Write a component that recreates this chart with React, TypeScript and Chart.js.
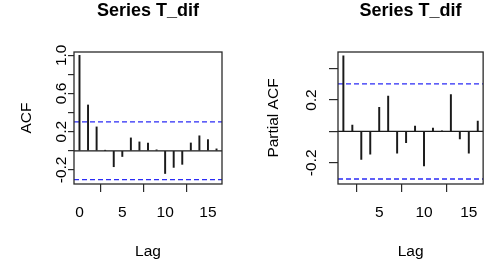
import React, { useEffect, useRef } from "react";
import { Chart, registerables } from "chart.js";

Chart.register(...registerables);

// ---- data ----
const seriesTitle = "Series T_dif";
const xAxisTitle = "Lag";
const acfTitle = "ACF";
const pacfTitle = "Partial ACF";

const acfLags = [0, 1, 2, 3, 4, 5, 6, 7, 8, 9, 10, 11, 12, 13, 14, 15, 16];
const acfValues = [1.0, 0.48, 0.25, 0.004, -0.167, -0.06, 0.135, 0.093, 0.082, 0.01, -0.238, -0.174, -0.142, 0.082, 0.157, 0.117, 0.02];

const pacfLags = [1, 2, 3, 4, 5, 6, 7, 8, 9, 10, 11, 12, 13, 14, 15, 16];
const pacfValues = [0.481, 0.041, -0.178, -0.145, 0.154, 0.225, -0.139, -0.071, 0.034, -0.22, 0.021, 0.003, 0.235, -0.047, -0.139, 0.066];

const ciBound = 0.303;

const acfXTicks = [0, 5, 10, 15];
const acfYTicks = [-0.2, 0, 0.2, 0.4, 0.6, 0.8, 1.0];
const acfYLabels = [-0.2, 0.2, 0.6, 1.0];

const pacfXTicks = [5, 10, 15];
const pacfYTicks = [-0.2, 0, 0.2, 0.4];
const pacfYLabels = [-0.2, 0.2];

const FONT = "'Liberation Sans', Arial, Helvetica, sans-serif";

const framePlugin = {
  id: "frame",
  afterDatasetsDraw(chart: any) {
    const { ctx, chartArea: a } = chart;
    ctx.save();
    ctx.strokeStyle = "#2a2a2a";
    ctx.lineWidth = 1.3;
    ctx.strokeRect(a.left, a.top, a.right - a.left, a.bottom - a.top);
    ctx.restore();
  },
};

interface P {
  lags: number[];
  values: number[];
  xMin: number;
  xMax: number;
  xTicks: number[];
  yMin: number;
  yMax: number;
  yTicks: number[];
  yLabels: number[];
  yTitle: string;
  yWidth: number;
  yTitlePad: number;
  yTickPad: number;
  yTickLen: number;
  padRight: number;
}

function makeConfig(p: P): any {
  const tickLen = 8;
  return {
    type: "bar",
    data: {
      datasets: [
        {
          type: "bar",
          data: p.lags.map((l, i) => ({ x: l, y: p.values[i] })),
          backgroundColor: "#1a1a1a",
          barThickness: 1.3,
          order: 1,
        },
        {
          type: "line",
          data: [
            { x: p.xMin, y: 0 },
            { x: p.xMax, y: 0 },
          ],
          borderColor: "#1a1a1a",
          borderWidth: 1.2,
          pointRadius: 0,
          order: 2,
        },
        {
          type: "line",
          data: [
            { x: p.xMin, y: ciBound },
            { x: p.xMax, y: ciBound },
          ],
          borderColor: "#2b2bf5",
          borderWidth: 1.3,
          borderDash: [5, 3],
          pointRadius: 0,
          order: 3,
        },
        {
          type: "line",
          data: [
            { x: p.xMin, y: -ciBound },
            { x: p.xMax, y: -ciBound },
          ],
          borderColor: "#2b2bf5",
          borderWidth: 1.3,
          borderDash: [5, 3],
          pointRadius: 0,
          order: 3,
        },
      ],
    },
    options: {
      responsive: false,
      animation: false,
      devicePixelRatio: 1,
      layout: { padding: { left: 0, top: 0, right: p.padRight, bottom: 0 } },
      plugins: {
        legend: { display: false },
        tooltip: { enabled: false },
        title: {
          display: true,
          text: seriesTitle,
          fullSize: false,
          color: "#000",
          font: { family: FONT, size: 18, weight: "bold" },
          padding: { top: 0, bottom: 30.4 },
        },
      },
      scales: {
        x: {
          type: "linear",
          offset: false,
          min: p.xMin,
          max: p.xMax,
          afterBuildTicks: (scale: any) => {
            scale.ticks = p.xTicks.map((v) => ({ value: v }));
          },
          afterFit: (scale: any) => {
            scale.height = 77;
          },
          border: { display: false },
          grid: {
            drawOnChartArea: false,
            drawTicks: true,
            tickLength: tickLen,
            color: "#2a2a2a",
            lineWidth: 1.2,
          },
          ticks: {
            color: "#000",
            font: { family: FONT, size: 15.5 },
            padding: 11,
            maxRotation: 0,
            autoSkip: false,
            callback: (v: number) => String(v),
          },
          title: {
            display: true,
            text: xAxisTitle,
            color: "#000",
            font: { family: FONT, size: 15.5 },
            padding: { top: 0, bottom: 0 },
          },
        },
        y: {
          type: "linear",
          min: p.yMin,
          max: p.yMax,
          afterBuildTicks: (scale: any) => {
            scale.ticks = p.yTicks.map((v) => ({ value: v }));
          },
          afterFit: (scale: any) => {
            scale.width = p.yWidth;
          },
          border: { display: false },
          grid: {
            drawOnChartArea: false,
            drawTicks: true,
            tickLength: p.yTickLen,
            color: "#2a2a2a",
            lineWidth: 1.2,
          },
          ticks: {
            color: "#000",
            font: { family: FONT, size: 15.5 },
            minRotation: 90,
            maxRotation: 90,
            crossAlign: "center",
            padding: p.yTickPad,
            autoSkip: false,
            callback: (v: number) =>
              p.yLabels.some((l) => Math.abs(l - v) < 1e-9) ? v.toFixed(1) : "",
          },
          title: {
            display: true,
            text: p.yTitle,
            color: "#000",
            font: { family: FONT, size: 15.5 },
            padding: { top: p.yTitlePad, bottom: 0 },
          },
        },
      },
    },
    plugins: [framePlugin],
  };
}

function ChartPanel({ cfg, left, width }: { cfg: P; left: number; width: number }) {
  const ref = useRef<HTMLCanvasElement | null>(null);
  useEffect(() => {
    if (!ref.current) return;
    const chart = new Chart(ref.current, makeConfig(cfg));
    return () => chart.destroy();
  }, []);
  return (
    <canvas
      ref={ref}
      width={width}
      height={261}
      style={{ position: "absolute", left, top: 0, width, height: 261, display: "block" }}
    />
  );
}

const acfCfg: P = {
  lags: acfLags,
  values: acfValues,
  xMin: -0.64,
  xMax: 16.64,
  xTicks: acfXTicks,
  yMin: -0.348,
  yMax: 1.035,
  yTicks: acfYTicks,
  yLabels: acfYLabels,
  yTitle: acfTitle,
  yWidth: 74,
  yTitlePad: 17.7,
  yTickPad: -7,
  yTickLen: 6,
  padRight: 23,
};

const pacfCfg: P = {
  lags: pacfLags,
  values: pacfValues,
  xMin: 0.4,
  xMax: 16.6,
  xTicks: pacfXTicks,
  yMin: -0.335,
  yMax: 0.506,
  yTicks: pacfYTicks,
  yLabels: pacfYLabels,
  yTitle: pacfTitle,
  yWidth: 93,
  yTitlePad: 19.7,
  yTickPad: 4,
  yTickLen: 9,
  padRight: 3,
};

export default function App() {
  return (
    <div style={{ position: "absolute", left: 0, top: 0, width: 489, height: 261, background: "#fff" }}>
      <ChartPanel cfg={acfCfg} left={0} width={245} />
      <ChartPanel cfg={pacfCfg} left={245} width={244} />
    </div>
  );
}
